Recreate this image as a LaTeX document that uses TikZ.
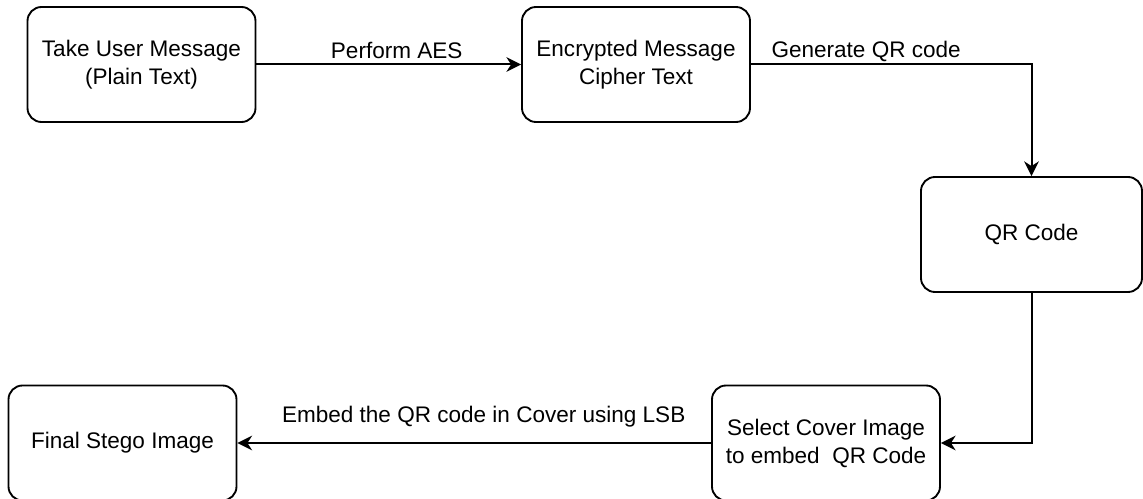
\documentclass[tikz,border=0pt]{standalone}
\usepackage{fontspec}
\setmainfont{Liberation Sans}
\usetikzlibrary{arrows.meta}
\begin{document}
\begin{tikzpicture}[x=0.75pt,y=-0.75pt,
  stepbox/.style={draw=black, line width=1.4pt, rounded corners=10.5pt,
    minimum width=171pt, minimum height=86.25pt, inner sep=0pt,
    align=center, font=\fontsize{16.9}{21}\selectfont, text=black},
  flow/.style={draw=black, line width=1.5pt,
    -{Stealth[length=11pt,width=11pt,inset=3.5pt]}},
  edgelabel/.style={font=\fontsize{16.9}{21}\selectfont, text=black, inner sep=0pt}]
\useasboundingbox (0,0) rectangle (1143,499);

% process steps
\node[stepbox] (take)   at (141.5,64.5) {Take User Message\\(Plain Text)};
\node[stepbox] (enc)    at (636,64.5)   {Encrypted Message\\Cipher Text};
\node[stepbox, minimum width=165.75pt] (qr) at (1031.5,234.5) {QR Code};
\node[stepbox] (select) at (826,443)    {Select Cover Image\\to embed\ \ QR Code};
\node[stepbox] (final)  at (122.5,443)  {Final Stego Image};

% connectors
\draw[flow] (take.east) -- node[edgelabel, anchor=base, pos=0.53, yshift=4.5pt] {Perform AES} (enc.west);
\draw[flow] (enc.east) -| node[edgelabel, anchor=base west, pos=0.035, yshift=5.25pt] {Generate QR code} (qr.north);
\draw[flow] (qr.south) |- (select.east);
\draw[flow] (select.west) -- node[edgelabel, anchor=base, pos=0.48, yshift=15.75pt] {Embed the QR code in Cover using LSB} (final.east);
\end{tikzpicture}
\end{document}
